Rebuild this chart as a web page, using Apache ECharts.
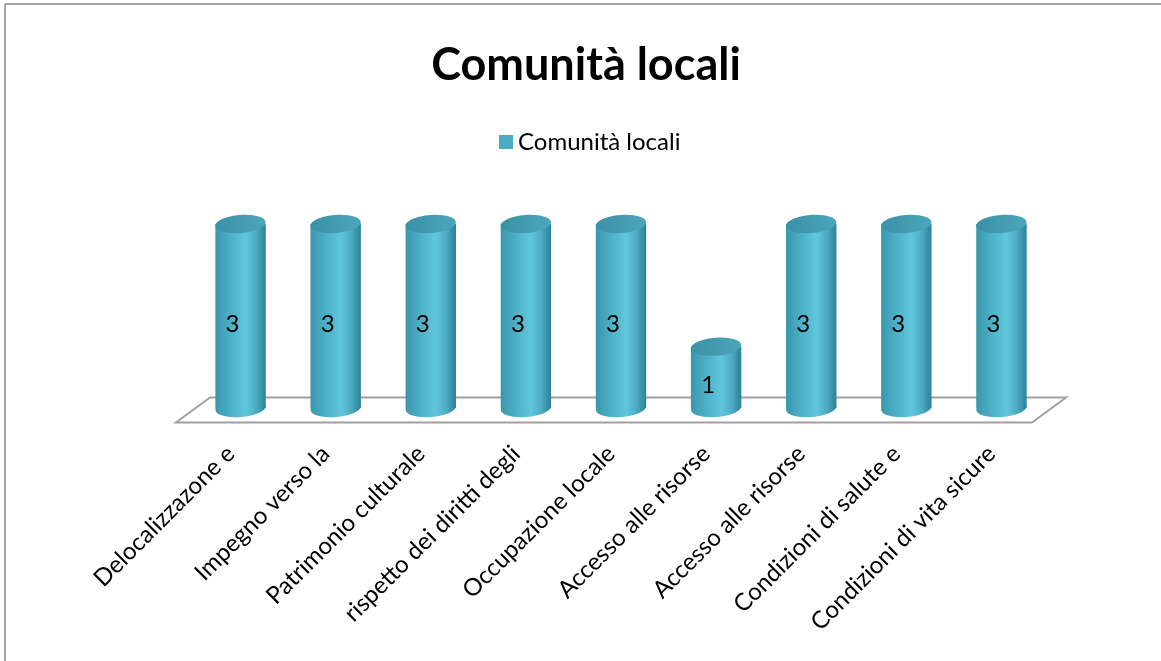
<!DOCTYPE html>
<html>
<head>
<meta charset="utf-8">
<script src="https://cdn.jsdelivr.net/npm/echarts@6/dist/echarts.min.js"></script>
<style>
  html, body { margin: 0; padding: 0; background: #ffffff; }
  #chart { width: 1161px; height: 661px; }
</style>
</head>
<body>
<div id="chart"></div>
<script>
// Chart content
const chartTitle = 'Comunità locali';
const seriesName = 'Comunità locali';
const categories = [
  'Delocalizzazone e',
  'Impegno verso la',
  'Patrimonio culturale',
  'rispetto dei diritti degli',
  'Occupazione locale',
  'Accesso alle risorse',
  'Accesso alle risorse',
  'Condizioni di salute e',
  'Condizioni di vita sicure'
];
const values = [3, 3, 3, 3, 3, 1, 3, 3, 3];

const FONT = 'Lato, "Open Sans", sans-serif';
const BASE_COLOR = '#4bacc6';

// Shading across the cylinder body (left edge -> right edge)
function bodyGradient() {
  return new echarts.graphic.LinearGradient(0, 0, 1, 0, [
    { offset: 0, color: '#3a97ad' },
    { offset: 0.3, color: '#4cb0c7' },
    { offset: 0.6, color: '#61c7dd' },
    { offset: 0.82, color: '#4aa9bf' },
    { offset: 1, color: '#2e8096' }
  ]);
}
function capGradient() {
  return new echarts.graphic.LinearGradient(0, 0, 1, 0, [
    { offset: 0, color: '#3b91a6' },
    { offset: 1, color: '#4ca6bb' }
  ]);
}

// One cylinder per category, built from the axis scales
function renderCylinder(params, api) {
  const i = api.value(0);
  const v = api.value(1);
  const top = api.coord([i, v]);
  const base = api.coord([i, 0]);
  const band = api.size([1, 0])[0];
  const w = band * 0.53;
  const rx = w / 2;
  const ry = 9;
  const tilt = 0.08;
  const body = bodyGradient();
  return {
    type: 'group',
    children: [
      {
        type: 'ellipse',
        shape: { cx: base[0], cy: base[1], rx: rx, ry: ry },
        rotation: tilt, originX: base[0], originY: base[1],
        style: { fill: body }
      },
      {
        type: 'rect',
        shape: { x: base[0] - rx, y: top[1], width: w, height: base[1] - top[1] },
        style: { fill: body }
      },
      {
        type: 'ellipse',
        shape: { cx: top[0], cy: top[1], rx: rx, ry: ry },
        rotation: tilt, originX: top[0], originY: top[1],
        style: { fill: capGradient() }
      },
      {
        type: 'text',
        x: top[0] - 8,
        y: (top[1] + base[1]) / 2 + 8,
        style: {
          text: String(v),
          fill: '#000000',
          font: '24px ' + FONT,
          align: 'center',
          verticalAlign: 'middle'
        }
      }
    ]
  };
}

// Floor plane under the bars, spanning the category axis
function renderFloor(params, api) {
  const cs = params.coordSys;
  const y = api.coord([0, 0])[1] + 1.5;
  const L = cs.x, R = cs.x + cs.width;
  return {
    type: 'polygon',
    silent: true,
    shape: { points: [[L - 17, y + 13], [R - 17, y + 13], [R + 17, y - 12], [L + 17, y - 12]] },
    style: { fill: 'none', stroke: '#a0a0a0', lineWidth: 2 }
  };
}

const chart = echarts.init(document.getElementById('chart'), null, { renderer: 'canvas' });

chart.setOption({
  animation: false,
  backgroundColor: '#ffffff',
  title: {
    text: chartTitle,
    left: 581,
    textAlign: 'center',
    top: 38,
    textStyle: { fontFamily: FONT, fontSize: 45, fontWeight: 'bold', color: '#000000' }
  },
  legend: {
    data: [seriesName],
    top: 125,
    left: 494,
    icon: 'rect',
    itemWidth: 14,
    itemHeight: 14,
    itemGap: 6,
    textStyle: { fontFamily: FONT, fontSize: 24, color: '#000000' }
  },
  graphic: [
    { type: 'line', shape: { x1: 5, y1: 4, x2: 1161, y2: 4 }, style: { stroke: '#a6a6a6', lineWidth: 2 } },
    { type: 'line', shape: { x1: 5, y1: 4, x2: 5, y2: 661 }, style: { stroke: '#a6a6a6', lineWidth: 2 } }
  ],
  grid: { left: 193, right: 112, top: 224, bottom: 253, containLabel: false },
  xAxis: {
    type: 'category',
    data: categories,
    boundaryGap: true,
    axisLine: { show: false },
    axisTick: { show: false },
    axisLabel: {
      interval: 0,
      rotate: 45,
      margin: 32,
      padding: [0, 14, 0, 0],
      fontFamily: FONT,
      fontSize: 24,
      color: '#000000'
    }
  },
  yAxis: {
    type: 'value',
    min: 0,
    max: 3,
    show: false,
    splitLine: { show: false }
  },
  series: [
    {
      name: 'floor',
      type: 'custom',
      renderItem: renderFloor,
      data: [[0, 0]],
      z: 1,
      silent: true
    },
    {
      name: seriesName,
      type: 'custom',
      renderItem: renderCylinder,
      itemStyle: { color: BASE_COLOR },
      encode: { x: 0, y: 1 },
      data: values.map((v, i) => [i, v]),
      z: 2
    }
  ]
});
</script>
</body>
</html>
